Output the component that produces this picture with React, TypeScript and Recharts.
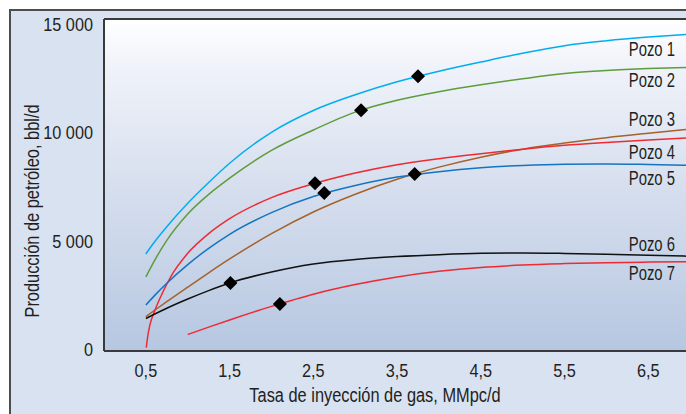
import React from "react";
import {
  ComposedChart,
  Line,
  Scatter,
  XAxis,
  YAxis,
  ReferenceArea,
  ReferenceLine,
  LabelList,
} from "recharts";

// ---------- data ----------
const X_MAIN = [0.5, 0.6, 0.75, 1.0, 1.25, 1.5, 2.0, 2.5, 3.0, 3.5, 4.0, 4.5, 5.0, 5.5, 6.0, 6.5, 6.95];
const X_POZO4 = [0.505, 0.52, 0.55, 0.6, 0.7, 0.8, 1.0, 1.25, 1.5, 2.0, 2.5, 3.0, 3.5, 4.0, 4.5, 5.0, 5.5, 6.0, 6.5, 6.95];
const X_POZO7 = [1.0, 1.25, 1.5, 2.0, 2.5, 3.0, 3.5, 4.0, 4.5, 5.0, 5.5, 6.0, 6.5, 6.95];

const POZO1 = [4480, 5020, 5740, 6820, 7780, 8670, 10100, 11106, 11830, 12430, 12918, 13343, 13750, 14100, 14325, 14495, 14620];
const POZO2 = [3420, 4150, 5110, 6330, 7230, 7980, 9260, 10205, 11030, 11575, 11970, 12290, 12570, 12810, 12950, 13040, 13095];
const POZO3 = [1590, 1870, 2280, 2950, 3610, 4250, 5420, 6420, 7240, 7930, 8490, 8950, 9320, 9600, 9850, 10055, 10225];
const POZO4 = [150, 620, 1230, 1800, 2700, 3450, 4510, 5420, 6110, 7080, 7720, 8218, 8600, 8880, 9110, 9320, 9500, 9630, 9740, 9830];
const POZO5 = [2120, 2545, 3130, 3990, 4740, 5390, 6390, 7130, 7640, 8030, 8280, 8460, 8570, 8625, 8635, 8612, 8580];
const POZO6 = [1500, 1696, 1976, 2401, 2790, 3140, 3650, 4020, 4230, 4360, 4450, 4510, 4525, 4505, 4470, 4425, 4380];
const POZO7 = [760, 1102, 1435, 2060, 2625, 3070, 3420, 3680, 3860, 3970, 4035, 4080, 4105, 4120];

const DIAMOND_X = [3.75, 3.07, 3.71, 2.52, 2.63, 1.51, 2.1];
const DIAMOND_Y = [12690, 11120, 8170, 7750, 7290, 3140, 2170];

const X_TICKS = [0.5, 1.5, 2.5, 3.5, 4.5, 5.5, 6.5];
const Y_TICKS = [0, 5000, 10000, 15000];
const SERIES_NAMES = ["Pozo 1", "Pozo 2", "Pozo 3", "Pozo 4", "Pozo 5", "Pozo 6", "Pozo 7"];
const X_TITLE = "Tasa de inyección de gas, MMpc/d";
const Y_TITLE = "Producción de petróleo, bbl/d";

const X_MAX = 6.95;
const Y_MAX = 15330;

// ---------- styles ----------
const FONT = "'Liberation Sans', Arial, sans-serif";
const TEXT = "#231f20";
const AXIS = "#3a3a3a";

const build = (xs: number[], ys: number[]) => xs.map((x, i) => ({ x, y: ys[i] }));

const SERIES = [
  { name: SERIES_NAMES[0], data: build(X_MAIN, POZO1), color: "#00aeef", dy: 15 },
  { name: SERIES_NAMES[1], data: build(X_MAIN, POZO2), color: "#5e9c3c", dy: 13 },
  { name: SERIES_NAMES[2], data: build(X_MAIN, POZO3), color: "#a5622a", dy: -10.5 },
  { name: SERIES_NAMES[3], data: build(X_POZO4, POZO4), color: "#ee2a33", dy: 13.5 },
  { name: SERIES_NAMES[4], data: build(X_MAIN, POZO5), color: "#1574c0", dy: 12.5 },
  { name: SERIES_NAMES[5], data: build(X_MAIN, POZO6), color: "#111111", dy: -12 },
  { name: SERIES_NAMES[6], data: build(X_POZO7, POZO7), color: "#ee2a33", dy: 11.5 },
];

const DIAMONDS = DIAMOND_X.map((x, i) => ({ x, y: DIAMOND_Y[i] }));

const fmtX = (v: number) => String(v).replace(".", ",");
const fmtY = (v: number) => (v >= 1000 ? `${Math.floor(v / 1000)} ${String(v % 1000).padStart(3, "0")}` : String(v));

const Diamond = (props: any) => {
  const { cx, cy } = props;
  if (cx == null || cy == null) return <g />;
  const r = 7;
  return <polygon points={`${cx},${cy - r} ${cx + r},${cy} ${cx},${cy + r} ${cx - r},${cy}`} fill="#000" />;
};

const YTick = (p: any) => (
  <text
    transform={`translate(${p.x},${p.y + 4.8}) scale(0.92,1)`}
    textAnchor="end"
    fontFamily={FONT}
    fontSize={17.7}
    fill={TEXT}
  >
    {fmtY(p.payload.value)}
  </text>
);

const XTick = (p: any) => (
  <text
    transform={`translate(${p.x},${p.y + 26}) scale(0.92,1)`}
    textAnchor="middle"
    fontFamily={FONT}
    fontSize={17.7}
    fill={TEXT}
  >
    {fmtX(p.payload.value)}
  </text>
);

export default function App() {
  return (
    <div style={{ position: "absolute", left: 0, top: 0, width: 686, height: 414, overflow: "hidden", background: "#ffffff" }}>
      <div
        style={{
          position: "absolute",
          left: 9,
          top: 9,
          width: 720,
          height: 440,
          background: "#d9e2f1",
          borderLeft: `2px solid #4d4d4d`,
          borderTop: `2px solid #4d4d4d`,
        }}
      />
      <div style={{ position: "absolute", left: 0, top: 0 }}>
        <ComposedChart width={686} height={414} margin={{ top: 19, right: 0, bottom: 33, left: 0 }}>
          <defs>
            <linearGradient id="plotBg" x1="0" y1="0" x2="0" y2="1">
              <stop offset="0" stopColor="#ffffff" />
              <stop offset="0.15" stopColor="#eff2f9" />
              <stop offset="0.5" stopColor="#d7dfee" />
              <stop offset="1" stopColor="#b6c7e1" />
            </linearGradient>
          </defs>
          <XAxis
            type="number"
            dataKey="x"
            domain={[0, X_MAX]}
            ticks={X_TICKS}
            allowDataOverflow
            height={30}
            tickSize={0}
            tickMargin={0}
            tickLine={false}
            axisLine={{ stroke: AXIS, strokeWidth: 2 }}
            tick={<XTick />}
            interval={0}
          />
          <YAxis
            type="number"
            dataKey="y"
            domain={[0, Y_MAX]}
            ticks={Y_TICKS}
            allowDataOverflow
            width={104}
            tickSize={0}
            tickMargin={11}
            tickLine={false}
            axisLine={{ stroke: AXIS, strokeWidth: 2 }}
            tick={<YTick />}
            interval={0}
          />
          <ReferenceArea x1={0} x2={X_MAX} y1={0} y2={Y_MAX} fill="url(#plotBg)" fillOpacity={1} stroke="none" ifOverflow="visible" />
          <ReferenceLine y={Y_MAX} stroke={AXIS} strokeWidth={2} ifOverflow="visible" />
          {SERIES.map((s) => (
            <Line
              key={s.name}
              data={s.data}
              dataKey="y"
              type="monotone"
              stroke={s.color}
              strokeWidth={1.5}
              dot={false}
              activeDot={false}
              isAnimationActive={false}
            >
              <LabelList
                dataKey="y"
                content={(p: any) =>
                  p.index === s.data.length - 1 ? (
                    <text
                      transform={`translate(${p.x - 11},${p.y + s.dy + 7}) scale(0.75,1)`}
                      textAnchor="end"
                      fontFamily={FONT}
                      fontSize={19.8}
                      fill={TEXT}
                    >
                      {s.name}
                    </text>
                  ) : (
                    <g />
                  )
                }
              />
            </Line>
          ))}
          <Scatter data={DIAMONDS} dataKey="y" shape={<Diamond />} isAnimationActive={false} />
        </ComposedChart>
      </div>
      <div
        style={{
          position: "absolute",
          left: 375,
          top: 396,
          transform: "translate(-50%, -50%) scaleX(0.84)",
          whiteSpace: "nowrap",
          fontFamily: FONT,
          fontSize: 19.5,
          lineHeight: 1,
          color: TEXT,
        }}
      >
        {X_TITLE}
      </div>
      <div
        style={{
          position: "absolute",
          left: 33,
          top: 211,
          transform: "translate(-50%, -50%) rotate(-90deg) scaleX(0.84)",
          whiteSpace: "nowrap",
          fontFamily: FONT,
          fontSize: 19.5,
          lineHeight: 1,
          color: TEXT,
        }}
      >
        {Y_TITLE}
      </div>
    </div>
  );
}
